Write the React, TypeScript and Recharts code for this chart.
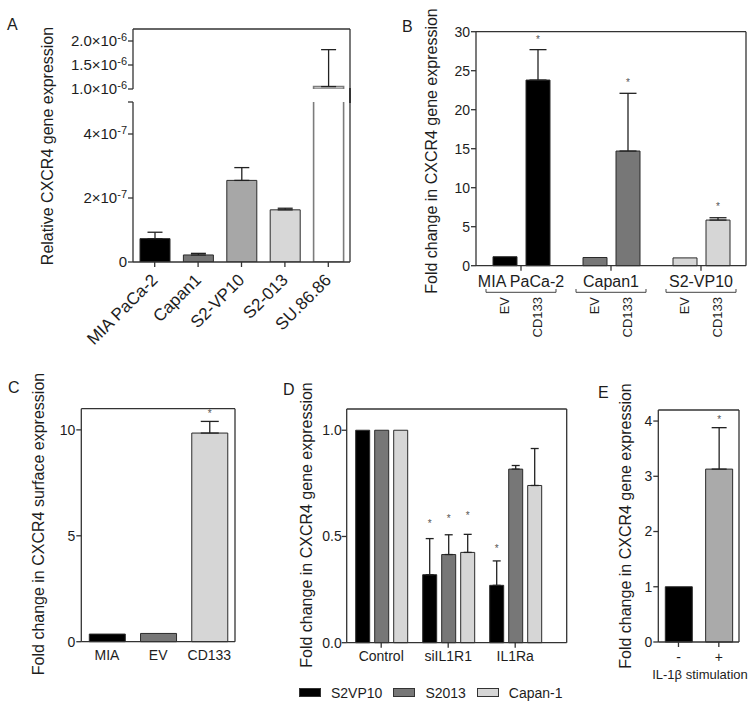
import React from "react";
import { Bar, BarChart, CartesianGrid, Cell, ErrorBar, LabelList, Legend, XAxis, YAxis } from "recharts";

const FONT = '"Liberation Sans", Arial, Helvetica, sans-serif';
const INK = "#1d1d1d";
const AXIS = { stroke: "#333", strokeWidth: 1.3 };
const TICK = { fill: INK, fontSize: 14, fontFamily: FONT };
const EDGE = "#2b2b2b";

// A: relative CXCR4 expression per cell line (broken y axis)
const aLines = ["MIA PaCa-2", "Capan1", "S2-VP10", "S2-013", "SU.86.86"];
const aMean = [7.3e-8, 2.2e-8, 2.55e-7, 1.63e-7, 1.05e-6];
const aUpper = [9.3e-8, 2.7e-8, 2.95e-7, 1.68e-7, 1.82e-6];
const aLowTicks = [0, 2e-7, 4e-7];
const aHighTicks = [1e-6, 1.5e-6, 2e-6];
const aBreakLow = 5e-7;
const aBreakHigh = 1e-6;
const aTop = 2.25e-6;
const aFill = ["#000", "#767676", "#a7a7a7", "#d7d7d7", "#fff"];

// B: fold change EV vs CD133
const bLines = ["MIA PaCa-2", "Capan1", "S2-VP10"];
const bSeries = ["EV", "CD133"];
const bEV = [1.15, 1.05, 1.0];
const bCD = [23.8, 14.7, 5.85];
const bCDUpper = [27.7, 22.1, 6.15];
const bStar = [29.2, 23.7, 7.8];
const bTicks = [0, 5, 10, 15, 20, 25, 30];
const bFill = ["#000", "#777", "#d6d6d6"];

// C: surface expression
const cCats = ["MIA", "EV", "CD133"];
const cMean = [0.36, 0.39, 9.85];
const cUpper = [null, null, 10.4];
const cStar = [null, null, 10.85];
const cTicks = [0, 5, 10];
const cFill = ["#000", "#777", "#d6d6d6"];

// D: IL1 blockade
const dGroups = ["Control", "siIL1R1", "IL1Ra"];
const dSeries = ["S2VP10", "S2013", "Capan-1"];
const dMean = [
  [1.0, 0.32, 0.27],
  [1.0, 0.415, 0.817],
  [1.0, 0.425, 0.74],
];
const dUpper = [
  [null, 0.49, 0.385],
  [null, 0.508, 0.834],
  [null, 0.51, 0.914],
];
const dStar = [
  [null, 0.572, 0.455],
  [null, 0.592, null],
  [null, 0.608, null],
];
const dTicks = [0, 0.5, 1.0];
const dFill = ["#000", "#777", "#d6d6d6"];

// E: IL-1beta stimulation
const eCats = ["-", "+"];
const eMean = [1.0, 3.13];
const eUpper = [null, 3.88];
const eStar = [null, 4.07];
const eTicks = [0, 1, 2, 3, 4];
const eFill = ["#000", "#aaa"];

const err = (m: number | null, u: number | null) => (m == null || u == null ? null : [0, u - m]);

const aLowData = aLines.map((name, i) => ({
  name,
  mean: aMean[i],
  err: aMean[i] <= aBreakLow ? err(aMean[i], aUpper[i]) : null,
}));
const aHighData = aLines.map((name, i) => ({
  name,
  mean: aMean[i] >= aBreakHigh ? aMean[i] : null,
  err: aMean[i] >= aBreakHigh ? err(aMean[i], aUpper[i]) : null,
}));
const bData = bLines.map((name, i) => ({ name, ev: bEV[i], cd: bCD[i], cdErr: err(bCD[i], bCDUpper[i]) }));
const cData = cCats.map((name, i) => ({ name, mean: cMean[i], err: err(cMean[i], cUpper[i]) }));
const dData = dGroups.map((name, g) => {
  const row: any = { name };
  dSeries.forEach((s, k) => {
    row["m" + k] = dMean[k][g];
    row["e" + k] = err(dMean[k][g], dUpper[k][g]);
  });
  return row;
});
const eData = eCats.map((name, i) => ({ name, mean: eMean[i], err: err(eMean[i], eUpper[i]) }));

// top and right edges of the plot box
const topEdge = ({ offset }: any) => (offset ? [offset.top] : []);
const rightEdge = ({ offset }: any) => (offset ? [offset.left + offset.width] : []);
const noLines = () => [];

const vTitle = (text: string, cx: number, cy: number) => () => (
  <text
    x={cx}
    y={cy}
    transform={`rotate(-90 ${cx} ${cy})`}
    textAnchor="middle"
    dominantBaseline="central"
    fontSize={16}
    fill={INK}
    fontFamily={FONT}
  >
    {text}
  </text>
);

const starAt = (means: (number | null)[], stars: (number | null)[]) => (props: any) => {
  const i = props.index;
  const vb = props.viewBox || {};
  const m = means[i];
  const s = stars[i];
  if (m == null || s == null || !vb.height) return null;
  const base = vb.y + vb.height;
  const cy = base - (s / m) * vb.height;
  return (
    <text x={vb.x + vb.width / 2} y={cy + 5.5} textAnchor="middle" fontSize={10} fill="#555" fontFamily={FONT}>
      *
    </text>
  );
};

const sciTick = (digits: number) => (props: any) => {
  const { x, y, payload } = props;
  const v = payload.value;
  if (v === aBreakLow) return null;
  if (v === 0)
    return (
      <text x={x} y={y} dy="0.35em" textAnchor="end" fontSize={15} fill={INK} fontFamily={FONT}>
        0
      </text>
    );
  const exp = Math.floor(Math.log10(v) + 1e-9);
  const mant = (v / Math.pow(10, exp)).toFixed(digits);
  return (
    <text x={x} y={y} dy="0.35em" textAnchor="end" fontSize={15} fill={INK} fontFamily={FONT}>
      <tspan>{mant}×10</tspan>
      <tspan dy="-0.5em" fontSize={11}>
        {exp}
      </tspan>
    </text>
  );
};

const ATick = (props: any) => {
  const { x, y, payload } = props;
  const ax = x + 4;
  const ay = y + 12;
  return (
    <text x={ax} y={ay} transform={`rotate(-45 ${ax} ${ay})`} textAnchor="end" fontSize={17} fill={INK} fontFamily={FONT}>
      {payload.value}
    </text>
  );
};

const B_BAR = 24;
const B_GAP = 9;

const BTick = (props: any) => {
  const { x, y, payload } = props;
  const off = (B_BAR + B_GAP) / 2;
  return (
    <g>
      <text x={x} y={y + 14.3} textAnchor="middle" fontSize={16} fill={INK} fontFamily={FONT}>
        {payload.value}
      </text>
      <path d={`M${x - 35},${y + 16.3} V${y + 19.6} H${x + 35} V${y + 16.3}`} fill="none" stroke="#444" strokeWidth={1} />
      {bSeries.map((s, k) => {
        const px = x + (k === 0 ? -off : off) + 4.6;
        const py = y + 24.3;
        return (
          <text
            key={s}
            x={px}
            y={py}
            transform={`rotate(-90 ${px} ${py})`}
            textAnchor="end"
            fontSize={13}
            fill={INK}
            fontFamily={FONT}
          >
            {s}
          </text>
        );
      })}
    </g>
  );
};

const DLegend = (props: any) => {
  const items = [...(props.payload || [])].sort(
    (p: any, q: any) => dSeries.indexOf(p.value) - dSeries.indexOf(q.value)
  );
  return (
    <div style={{ display: "flex", alignItems: "center", fontFamily: FONT, fontSize: 14, color: INK, lineHeight: "16px" }}>
      {items.map((p: any) => (
        <div key={p.value} style={{ display: "flex", alignItems: "center", marginRight: 11 }}>
          <div
            style={{
              width: 22,
              height: 9,
              boxSizing: "border-box",
              background: dFill[dSeries.indexOf(p.value)],
              border: "1px solid #333",
              marginRight: 10,
            }}
          />
          <span>{p.value}</span>
        </div>
      ))}
    </div>
  );
};

const letter = (t: string, left: number, top: number) => (
  <div
    style={{
      position: "absolute",
      left,
      top,
      fontSize: 16,
      lineHeight: "16px",
      fontFamily: FONT,
      color: INK,
    }}
  >
    {t}
  </div>
);

const place = (left: number, top: number, child: React.ReactNode) => (
  <div style={{ position: "absolute", left, top }}>{child}</div>
);

const frame = (withTop: boolean) => (
  <CartesianGrid
    stroke="#333"
    strokeWidth={1.3}
    horizontal={withTop}
    horizontalCoordinatesGenerator={withTop ? topEdge : noLines}
    verticalCoordinatesGenerator={rightEdge}
  />
);

export default function App() {
  return (
    <div style={{ position: "absolute", left: 0, top: 0, width: 754, height: 707, background: "#fff", overflow: "hidden" }}>
      {letter("A", 7, 16.5)}
      {letter("B", 402, 18.5)}
      {letter("C", 8, 379.5)}
      {letter("D", 283, 381.5)}
      {letter("E", 598, 384.5)}

      {/* Panel A, lower segment */}
      {place(
        0,
        0,
        <BarChart width={360} height={350} data={aLowData} margin={{ top: 102, right: 10, bottom: 0, left: 0 }} barSize={30}>
          {frame(false)}
          <XAxis dataKey="name" height={88} tickSize={5} tickMargin={2} interval={0} axisLine={AXIS} tickLine={AXIS} tick={ATick} />
          <YAxis
            domain={[0, aBreakLow]}
            ticks={[...aLowTicks, aBreakLow]}
            interval={0}
            allowDataOverflow
            width={133}
            tickSize={5}
            tickMargin={1}
            axisLine={AXIS}
            tickLine={AXIS}
            tick={sciTick(0)}
            label={{ content: vTitle("Relative CXCR4 gene expression", 47, 146) }}
          />
          <Bar dataKey="mean" isAnimationActive={false}>
            {aLowData.map((d, i) => (
              <Cell key={d.name} fill={aFill[i]} stroke={i === 4 ? "#7c7c7c" : EDGE} strokeWidth={i === 4 ? 1.6 : 1} />
            ))}
            <ErrorBar dataKey="err" direction="y" width={7.5} stroke="#222" strokeWidth={1.3} />
          </Bar>
        </BarChart>
      )}

      {/* Panel A, upper segment */}
      {place(
        0,
        0,
        <BarChart width={360} height={112} data={aHighData} margin={{ top: 29, right: 10, bottom: 23, left: 0 }} barSize={30}>
          {frame(true)}
          <XAxis dataKey="name" hide />
          <YAxis
            domain={[aBreakHigh, aTop]}
            ticks={aHighTicks}
            interval={0}
            allowDataOverflow
            width={133}
            tickSize={5}
            tickMargin={1}
            axisLine={AXIS}
            tickLine={AXIS}
            tick={sciTick(1)}
          />
          <Bar dataKey="mean" isAnimationActive={false}>
            {aHighData.map((d, i) => (
              <Cell key={d.name} fill={aFill[i]} stroke={i === 4 ? "#7c7c7c" : EDGE} strokeWidth={i === 4 ? 1.6 : 1} />
            ))}
            <ErrorBar dataKey="err" direction="y" width={7.5} stroke="#222" strokeWidth={1.3} />
          </Bar>
        </BarChart>
      )}
      <div style={{ position: "absolute", left: 349.35, top: 88, width: 1.3, height: 15, background: "#333" }} />

      {/* Panel B */}
      {place(
        370,
        0,
        <BarChart
          width={384}
          height={345}
          data={bData}
          margin={{ top: 31.7, right: 8, bottom: 0, left: 0 }}
          barSize={B_BAR}
          barGap={B_GAP}
        >
          {frame(true)}
          <XAxis dataKey="name" height={79.3} tickSize={5} tickMargin={2} interval={0} axisLine={AXIS} tickLine={AXIS} tick={BTick} />
          <YAxis
            domain={[0, 30]}
            ticks={bTicks}
            interval={0}
            width={106}
            tickSize={5}
            tickMargin={1}
            axisLine={AXIS}
            tickLine={AXIS}
            tick={TICK}
            label={{ content: vTitle("Fold change in CXCR4 gene expression", 61.5, 151) }}
          />
          <Bar dataKey="ev" name={bSeries[0]} isAnimationActive={false}>
            {bData.map((d, i) => (
              <Cell key={d.name} fill={bFill[i]} stroke={EDGE} strokeWidth={1} />
            ))}
          </Bar>
          <Bar dataKey="cd" name={bSeries[1]} isAnimationActive={false}>
            {bData.map((d, i) => (
              <Cell key={d.name} fill={bFill[i]} stroke={EDGE} strokeWidth={1} />
            ))}
            <ErrorBar dataKey="cdErr" direction="y" width={8.5} stroke="#222" strokeWidth={1.3} />
            <LabelList dataKey="cd" content={starAt(bCD, bStar)} />
          </Bar>
        </BarChart>
      )}

      {/* Panel C */}
      {place(
        0,
        360,
        <BarChart width={245} height={347} data={cData} margin={{ top: 48.7, right: 10, bottom: 0, left: 0 }} barSize={36}>
          {frame(true)}
          <XAxis dataKey="name" height={65.3} tickSize={6} tickMargin={2} interval={0} axisLine={AXIS} tickLine={false} tick={TICK} />
          <YAxis
            domain={[0, 11]}
            ticks={cTicks}
            interval={0}
            width={81.3}
            tickSize={5}
            tickMargin={1}
            axisLine={AXIS}
            tickLine={AXIS}
            tick={TICK}
            label={{ content: vTitle("Fold change in CXCR4 surface expression", 38, 164) }}
          />
          <Bar dataKey="mean" isAnimationActive={false}>
            {cData.map((d, i) => (
              <Cell key={d.name} fill={cFill[i]} stroke={EDGE} strokeWidth={1} />
            ))}
            <ErrorBar dataKey="err" direction="y" width={9} stroke="#222" strokeWidth={1.3} />
            <LabelList dataKey="mean" content={starAt(cMean, cStar)} />
          </Bar>
        </BarChart>
      )}

      {/* Panel D */}
      {place(
        255,
        360,
        <BarChart
          width={320}
          height={347}
          data={dData}
          margin={{ top: 49, right: 8.3, bottom: 0, left: 0 }}
          barSize={14}
          barGap={5}
        >
          {frame(true)}
          <XAxis
            dataKey="name"
            height={64.3}
            padding={{ left: 1, right: 18 }}
            tickSize={5}
            tickMargin={3}
            interval={0}
            axisLine={AXIS}
            tickLine={AXIS}
            tick={TICK}
          />
          <YAxis
            domain={[0, 1.1]}
            ticks={dTicks}
            interval={0}
            width={91.7}
            tickSize={5}
            tickMargin={0}
            tickFormatter={(v: number) => v.toFixed(1)}
            axisLine={AXIS}
            tickLine={AXIS}
            tick={TICK}
            label={{ content: vTitle("Fold change in CXCR4 gene expression", 51.5, 165) }}
          />
          <Legend
            layout="horizontal"
            verticalAlign="middle"
            align="center"
            wrapperStyle={{ left: 44, top: 324.5, width: 276 }}
            content={DLegend}
          />
          {dSeries.map((s, k) => (
            <Bar
              key={s}
              dataKey={"m" + k}
              name={s}
              fill={dFill[k]}
              stroke={EDGE}
              strokeWidth={1}
              isAnimationActive={false}
            >
              <ErrorBar dataKey={"e" + k} direction="y" width={4} stroke="#222" strokeWidth={1.3} />
              <LabelList dataKey={"m" + k} content={starAt(dMean[k], dStar[k])} />
            </Bar>
          ))}
        </BarChart>
      )}

      {/* Panel E */}
      {place(
        590,
        360,
        <BarChart width={164} height={347} data={eData} margin={{ top: 50, right: 15, bottom: 0, left: 0 }} barSize={27}>
          {frame(true)}
          <XAxis
            dataKey="name"
            height={65}
            tickSize={5}
            tickMargin={5}
            interval={0}
            axisLine={AXIS}
            tickLine={AXIS}
            tick={TICK}
            label={{
              content: () => (
                <text x={110} y={319} textAnchor="middle" fontSize={13} fill={INK} fontFamily={FONT}>
                  IL-1β stimulation
                </text>
              ),
            }}
          />
          <YAxis
            domain={[0, 4.2]}
            ticks={eTicks}
            interval={0}
            width={68.3}
            tickSize={5}
            tickMargin={1}
            axisLine={AXIS}
            tickLine={AXIS}
            tick={TICK}
            label={{ content: vTitle("Fold change in CXCR4 gene expression", 35, 166) }}
          />
          <Bar dataKey="mean" isAnimationActive={false}>
            {eData.map((d, i) => (
              <Cell key={d.name} fill={eFill[i]} stroke={EDGE} strokeWidth={1} />
            ))}
            <ErrorBar dataKey="err" direction="y" width={7.5} stroke="#222" strokeWidth={1.3} />
            <LabelList dataKey="mean" content={starAt(eMean, eStar)} />
          </Bar>
        </BarChart>
      )}
    </div>
  );
}
